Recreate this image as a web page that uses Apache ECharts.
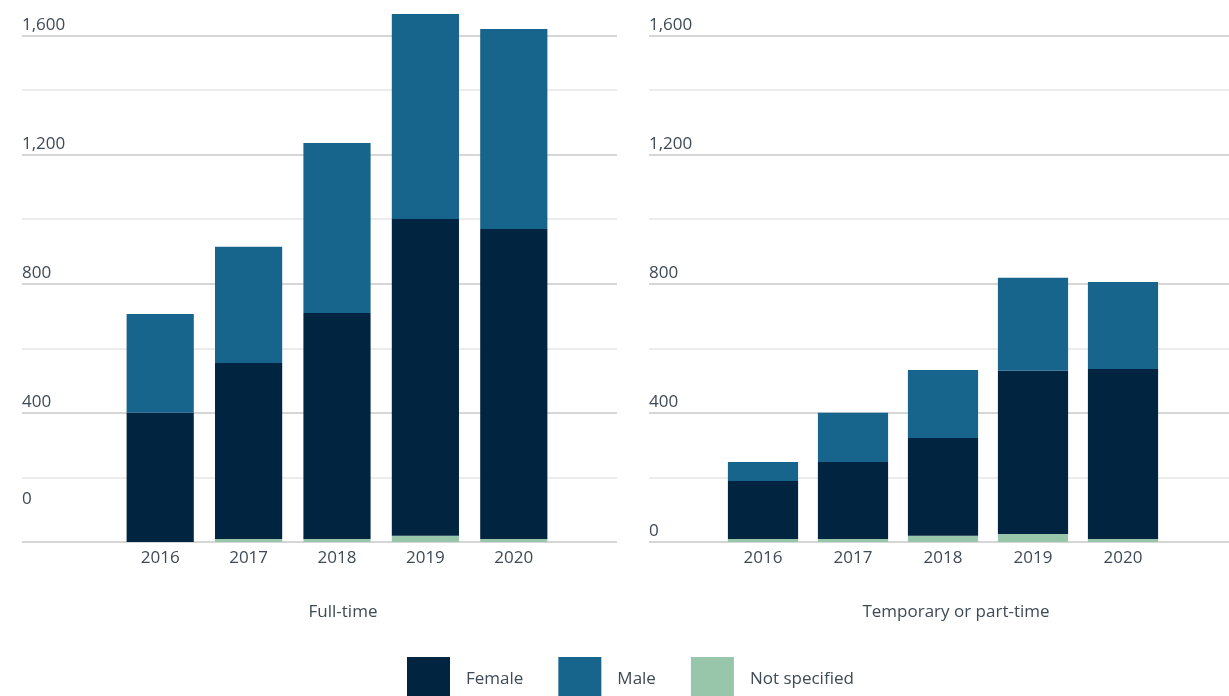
<!DOCTYPE html>
<html>
<head>
<meta charset="utf-8">
<script src="https://cdn.jsdelivr.net/npm/echarts@6/dist/echarts.min.js"></script>
<style>
    html, body { margin: 0; padding: 0; background: #fff; }
    #main { width: 1229px; height: 696px; }
</style>
</head>
<body>
<div id="main"></div>
<script>
const years = ['2016', '2017', '2018', '2019', '2020'];

// Full-time
const fullNotSpecified = [0, 9, 9, 19, 9];
const fullFemale = [400, 545, 700, 981, 960];
const fullMale = [306, 360, 527, 635, 620];

// Temporary or part-time
const partNotSpecified = [9, 9, 19, 25, 9];
const partFemale = [180, 239, 303, 505, 527];
const partMale = [59, 152, 211, 288, 269];

const yTickLabels = ['0', '400', '800', '1,200', '1,600'];
const yMax = 1567; // top rule of the plot, labelled 1,600 in the source

const textColor = '#3e4a57';
const fontFamily = '"Open Sans", sans-serif';
const colors = { female: '#012440', male: '#17648d', none: '#97c6aa' };

function yLabel(v, shiftZero) {
    if (v >= yMax) return yTickLabels[4];
    if (v % 400 !== 0) return '';
    if (v === 0 && shiftZero) return '{z|0}';
    return yTickLabels[v / 400];
}

// gridline axis (wide) + bar axis (narrow) for each panel
function ruleAxis(gridIndex, shiftZero) {
    return {
        type: 'value', gridIndex: gridIndex, min: 0, max: yMax, interval: 200,
        axisLine: { show: false }, axisTick: { show: false },
        axisLabel: {
            inside: true, margin: 0, verticalAlign: 'bottom',
            padding: [0, 0, 2, 0],
            color: textColor, fontSize: 17, fontFamily: fontFamily,
            formatter: (v) => yLabel(v, shiftZero),
            rich: { z: { color: textColor, fontSize: 17, fontFamily: fontFamily, padding: [0, 0, 32, 0] } }
        },
        splitLine: { lineStyle: { color: ['#d6d6d6', '#ececec'], width: 2 } }
    };
}
function barYAxis(gridIndex) {
    return { type: 'value', gridIndex: gridIndex, min: 0, max: yMax, show: false, splitLine: { show: false } };
}
function barXAxis(gridIndex) {
    return {
        type: 'category', gridIndex: gridIndex, data: years,
        axisLine: { show: false }, axisTick: { show: false },
        axisLabel: { color: textColor, fontSize: 17, fontFamily: fontFamily, margin: 8 }
    };
}
function bars(name, data, color, idx, gap) {
    return {
        name: name, type: 'bar', stack: 'panel' + idx, data: data,
        xAxisIndex: idx, yAxisIndex: idx, clip: false,
        barCategoryGap: gap, itemStyle: { color: color }
    };
}

let chart = echarts.init(document.getElementById('main'));
chart.setOption({
    animation: false,
    title: [
        { text: 'Full-time', left: 338, top: 599, textAlign: 'center',
          textStyle: { color: textColor, fontSize: 17, fontWeight: 'normal', fontFamily: fontFamily } },
        { text: 'Temporary or part-time', left: 951, top: 599, textAlign: 'center',
          textStyle: { color: textColor, fontSize: 17, fontWeight: 'normal', fontFamily: fontFamily } }
    ],
    legend: {
        data: ['Female', 'Male', 'Not specified'],
        left: 407, top: 657, padding: 0,
        icon: 'rect', itemWidth: 43, itemHeight: 44, itemGap: 35,
        textStyle: { color: textColor, fontSize: 17, fontFamily: fontFamily, padding: [0, 0, 0, 11] }
    },
    grid: [
        { left: 22, right: 612, top: 36, bottom: 154 },
        { left: 116, right: 671, top: 36, bottom: 154 },
        { left: 649, right: 0, top: 36, bottom: 154 },
        { left: 718, right: 61, top: 36, bottom: 154 }
    ],
    xAxis: [
        { type: 'value', gridIndex: 0, min: 0, max: 1, show: false },
        barXAxis(1),
        { type: 'value', gridIndex: 2, min: 0, max: 1, show: false },
        barXAxis(3)
    ],
    yAxis: [ruleAxis(0, true), barYAxis(1), ruleAxis(2, false), barYAxis(3)],
    series: [
        bars('Not specified', fullNotSpecified, colors.none, 1, '24%'),
        bars('Female', fullFemale, colors.female, 1, '24%'),
        bars('Male', fullMale, colors.male, 1, '24%'),
        bars('Not specified', partNotSpecified, colors.none, 3, '22%'),
        bars('Female', partFemale, colors.female, 3, '22%'),
        bars('Male', partMale, colors.male, 3, '22%')
    ]
});
</script>
</body>
</html>
